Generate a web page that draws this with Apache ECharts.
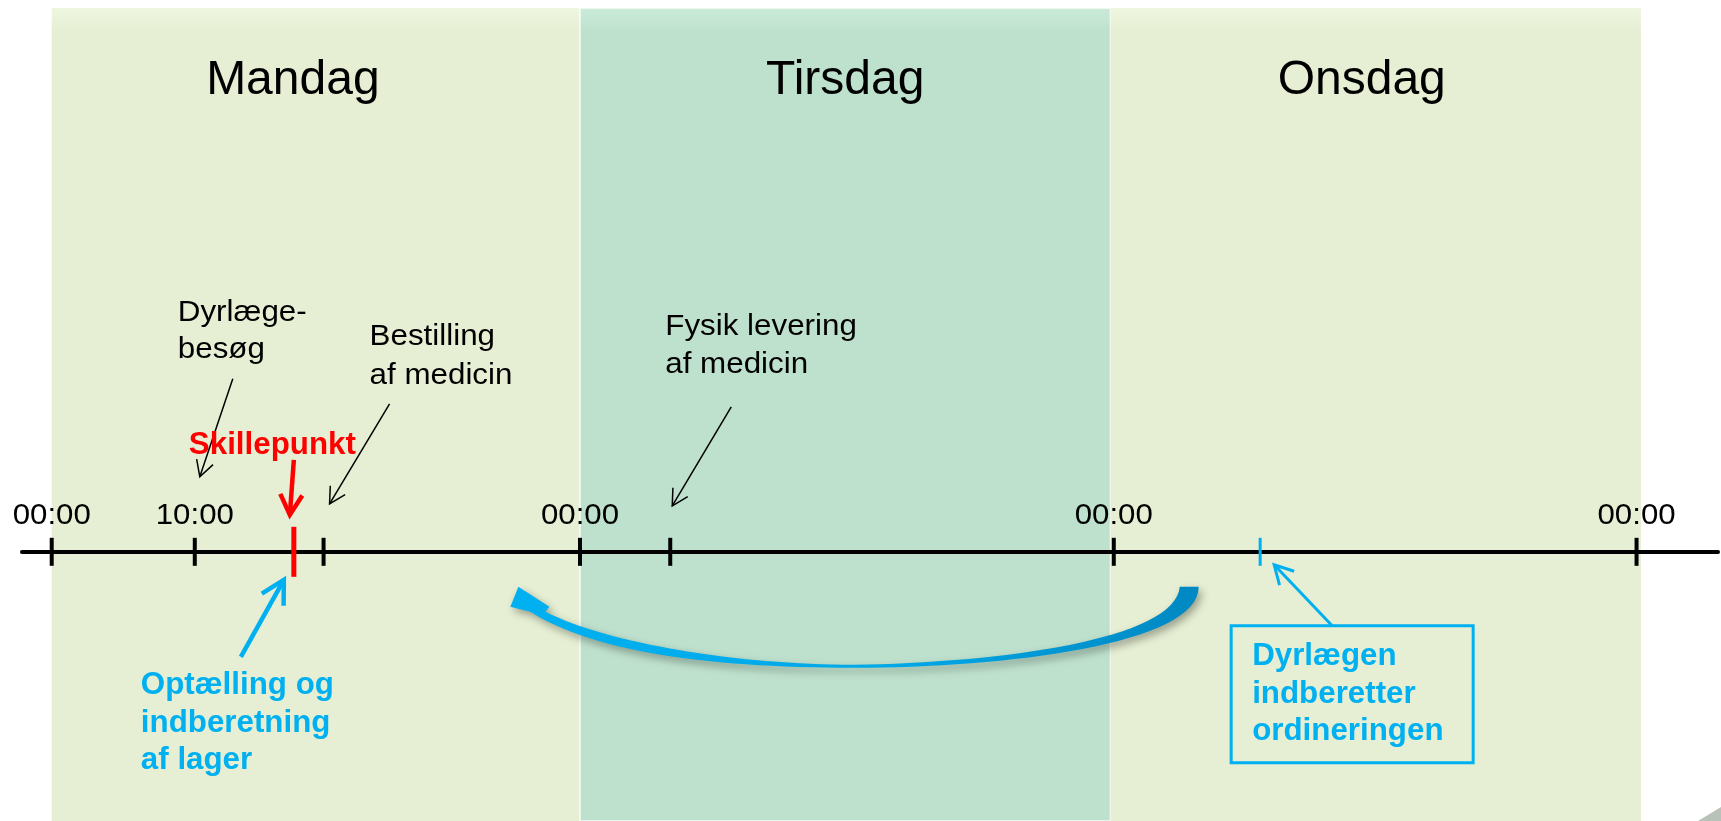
<!DOCTYPE html>
<html>
<head>
<meta charset="utf-8">
<title>Tidslinje</title>
<script src="https://cdn.jsdelivr.net/npm/echarts@6/dist/echarts.min.js"></script>
<style>
html, body { margin: 0; padding: 0; background: #fff; }
#chart { width: 1721px; height: 821px; }
</style>
</head>
<body>
<div id="chart"></div>
<script>
// tidsakse i timer fra mandag 00:00 (skematisk tegning, ikke helt lineær)
const dayNames = ['Mandag', 'Tirsdag', 'Onsdag']
const dayStart = [0, 24, 48.1]
const dayEnd = [24, 48.1, 72.2]
const tickPos = [0, 6.5, 12.35, 24, 28.1, 48.25, 72]
const tickLabelPos = [0, 6.5, 24, 48.25, 72]
const tickLabels = ['00:00', '10:00', '00:00', '00:00', '00:00']
const splitPos = 11.0    // skillepunkt
const reportPos = 54.9   // dyrlægen indberetter
const backFrom = 51.7    // buet pil: fra onsdag ...
const backTo = 21.2      // ... tilbage til mandag
const noteAt = [6.5, 12.35, 28.1, splitPos, splitPos, reportPos]
const noteText = [
  'Dyrlæge-\nbesøg',
  'Bestilling\naf medicin',
  'Fysik levering\naf medicin',
  'Skillepunkt',
  'Optælling og\nindberetning\naf lager',
  'Dyrlægen\nindberetter\nordineringen'
]

const FONT = '"Liberation Sans", Arial, sans-serif'
const BLUE = '#00B0F0'
const RED = '#FF0000'

// overskrifterne står ikke helt midt i båndet
const titleDx = [-23, 0, -14]

// placering af noter i forhold til punktet på aksen (pixels)
const noteLayout = [
  { dx: -17, dy: -239, gap: 37, color: '#000', bold: false, arrow: [38, -173, 5, -75], lw: 1.5, head: 18 },
  { dx: 46, dy: -215, gap: 38.5, color: '#000', bold: false, arrow: [66, -148, 6, -48], lw: 1.5, head: 18 },
  { dx: -5, dy: -225, gap: 37.5, color: '#000', bold: false, arrow: [61, -145, 2, -46], lw: 1.5, head: 18 },
  { dx: -105, dy: -106, gap: 0, color: RED, bold: true, arrow: [0, -92, -4, -37], lw: 4.5, head: 23 },
  { dx: -153, dy: 134, gap: 37.5, color: BLUE, bold: true, arrow: [-53, 105, -10, 28], lw: 4.5, head: 26 },
  { dx: -8, dy: 105, gap: 37.5, color: BLUE, bold: true, arrow: [72, 74, 14, 13], lw: 3, head: 21, box: [-29, 74, 242, 137] }
]

function arrowHead(x1, y1, x2, y2, len, ang) {
  const a = Math.atan2(y2 - y1, x2 - x1)
  return [
    [x2 - len * Math.cos(a - ang), y2 - len * Math.sin(a - ang)],
    [x2, y2],
    [x2 - len * Math.cos(a + ang), y2 - len * Math.sin(a + ang)]
  ]
}

function textLines(text, x, y, gap, font, color, sx, align) {
  return text.split('\n').map(function(line, k) {
    return {
      type: 'text',
      x: x,
      y: y + k * gap,
      scaleX: sx,
      style: { text: line, x: 0, y: 0, font: font, fill: color, textAlign: align || 'left', textVerticalAlign: 'middle' }
    }
  })
}

function renderBand(params, api) {
  const i = api.value(2)
  const a = api.coord([api.value(0), 1])
  const b = api.coord([api.value(1), -0.495])
  const base = i === 1 ? '#BEE1CD' : '#E6EFD3'
  const top = i === 1 ? '#CBEBD9' : '#EEF6E0'
  return {
    type: 'group',
    children: [{
      type: 'rect',
      shape: { x: a[0], y: a[1], width: b[0] - a[0], height: b[1] - a[1] },
      style: {
        fill: new echarts.graphic.LinearGradient(0, 0, 0, 1, [
          { offset: 0, color: top }, { offset: 0.03, color: base }, { offset: 1, color: base }
        ]),
        stroke: i === 1 ? 'rgba(255,255,255,0.85)' : null,
        lineWidth: 1.5
      }
    }, {
      type: 'text',
      x: (a[0] + b[0]) / 2 + titleDx[i],
      y: a[1] + 73,
      style: { text: dayNames[i], x: 0, y: 0, font: '48px ' + FONT, fill: '#000', textAlign: 'center', textVerticalAlign: 'middle' }
    }]
  }
}

function renderTick(params, api) {
  const kind = api.value(1)
  const p = api.coord([api.value(0), 0])
  const half = kind === 1 ? 25 : 14
  const color = kind === 1 ? RED : (kind === 2 ? BLUE : '#000')
  const w = kind === 1 ? 5 : (kind === 2 ? 3 : 4)
  return {
    type: 'line',
    shape: { x1: p[0], y1: p[1] - half, x2: p[0], y2: p[1] + half },
    style: { stroke: color, lineWidth: w }
  }
}

function renderTickLabel(params, api) {
  const p = api.coord([api.value(0), 0])
  const i = api.value(2)
  return {
    type: 'group',
    children: textLines(tickLabels[i], p[0], p[1] - 36, 0, '30px ' + FONT, '#000', 1.04, 'center')
  }
}

function renderNote(params, api) {
  const i = api.value(2)
  const L = noteLayout[i]
  const p = api.coord([api.value(0), 0])
  const font = (L.bold ? 'bold 31px ' : '30px ') + FONT
  const sx = L.bold ? 1.01 : 1.045
  const children = textLines(noteText[i], p[0] + L.dx, p[1] + L.dy, L.gap, font, L.color, sx)
  const x1 = p[0] + L.arrow[0]
  const y1 = p[1] + L.arrow[1]
  const x2 = p[0] + L.arrow[2]
  const y2 = p[1] + L.arrow[3]
  children.push({
    type: 'line',
    shape: { x1: x1, y1: y1, x2: x2, y2: y2 },
    style: { stroke: L.color, lineWidth: L.lw }
  })
  children.push({
    type: 'polyline',
    shape: { points: arrowHead(x1, y1, x2, y2, L.head, 0.5) },
    style: { stroke: L.color, lineWidth: L.lw, fill: null, lineJoin: 'miter' }
  })
  if (L.box) {
    children.push({
      type: 'rect',
      shape: { x: p[0] + L.box[0], y: p[1] + L.box[1], width: L.box[2], height: L.box[3] },
      style: { fill: null, stroke: BLUE, lineWidth: 3 }
    })
  }
  return { type: 'group', children: children }
}

function renderCurve(params, api) {
  const R = api.coord([api.value(0), 0])
  const L = api.coord([api.value(1), 0])
  const mx = (L[0] + R[0]) / 2
  const y = R[1]
  const d = [
    'M', R[0] - 10, y + 35,
    'L', R[0] + 9, y + 35,
    'C', R[0] + 9, y + 93, mx + 150, y + 116, mx, y + 116,
    'C', mx - 155, y + 116, L[0] + 72, y + 98, L[0] + 12, y + 60,
    'L', L[0] - 8, y + 55,
    'L', L[0], y + 35,
    'L', L[0] + 31, y + 55,
    'L', L[0] + 27, y + 60,
    'C', L[0] + 90, y + 92, mx - 115, y + 113, mx, y + 113,
    'C', mx + 145, y + 111, R[0] - 14, y + 88, R[0] - 10, y + 35,
    'Z'
  ].join(' ')
  return {
    type: 'path',
    shape: { pathData: d },
    style: {
      fill: new echarts.graphic.LinearGradient(0, 0, 1, 0, [
        { offset: 0, color: '#00B0F0' }, { offset: 0.55, color: '#00A8E8' }, { offset: 1, color: '#0088C2' }
      ]),
      shadowBlur: 8,
      shadowColor: 'rgba(0,0,0,0.35)',
      shadowOffsetX: 3,
      shadowOffsetY: 4
    }
  }
}

const chart = echarts.init(document.getElementById('chart'))
const option = {
  animation: false,
  backgroundColor: '#fff',
  grid: { left: 22, right: 3, top: 8, bottom: 0, outerBoundsMode: 'none' },
  xAxis: {
    type: 'value',
    min: -1.35,
    max: 75.7,
    z: 3,
    axisLine: { show: true, onZero: true, lineStyle: { color: '#000', width: 4 } },
    axisTick: { show: false },
    axisLabel: { show: false },
    splitLine: { show: false }
  },
  yAxis: { type: 'value', min: -0.495, max: 1, show: false, splitLine: { show: false } },
  series: [
    {
      type: 'custom',
      z: 1,
      renderItem: renderBand,
      data: dayNames.map(function(n, i) { return [dayStart[i], dayEnd[i], i] })
    },
    {
      type: 'custom',
      z: 4,
      renderItem: renderTick,
      data: tickPos.map(function(v) { return [v, 0] }).concat([[splitPos, 1], [reportPos, 2]])
    },
    {
      type: 'custom',
      z: 5,
      renderItem: renderTickLabel,
      data: tickLabelPos.map(function(v, i) { return [v, 0, i] })
    },
    {
      type: 'custom',
      z: 5,
      renderItem: renderNote,
      data: noteAt.map(function(v, i) { return [v, 0, i] })
    },
    {
      type: 'custom',
      z: 5,
      renderItem: renderCurve,
      data: [[backFrom, backTo]]
    }
  ],
  graphic: [{
    type: 'polygon',
    shape: { points: [[1698, 821], [1721, 807], [1721, 821]] },
    style: { fill: '#B9C2B9' }
  }]
}
chart.setOption(option)
</script>
</body>
</html>
